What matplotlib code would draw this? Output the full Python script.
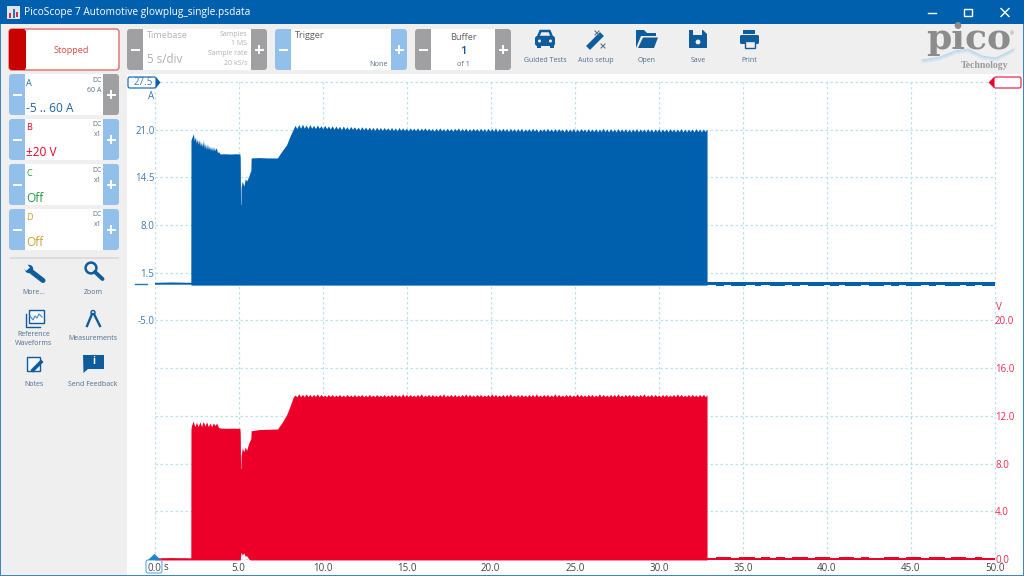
import numpy as np
import matplotlib
matplotlib.use("Agg")
import matplotlib.pyplot as plt
from matplotlib.patches import Rectangle, FancyBboxPatch, Polygon, Circle
from matplotlib.lines import Line2D

plt.rcParams['font.family'] = ['Open Sans', 'DejaVu Sans']

# ---------- data: current (A) envelope, channel A ----------
t_start = [0.0, 1.0, 2.16]
a_pre_up = [0.2, 0.25, 0.2]
a_pre_lo = [-0.05, -0.05, -0.05]

t_rise = [2.17, 2.22, 2.31, 2.37, 2.43, 2.49, 2.55, 2.61, 2.67, 2.73, 2.79, 2.85, 2.91, 2.97, 3.03, 3.09, 3.15, 3.21, 3.27,
          3.33, 3.39, 3.45, 3.51, 3.57, 3.63, 3.69, 3.75, 3.82, 3.90, 4.2, 4.5, 4.8,
          5.08, 5.10, 5.12, 5.14, 5.15, 5.22, 5.31, 5.40, 5.48, 5.60, 5.70, 5.73, 5.75, 6.2, 6.8, 7.31,
          7.57, 7.86, 8.06, 8.26, 8.36]
a_rise = [19.6, 19.9, 20.45, 19.5, 20.0, 19.2, 19.7, 19.0, 19.64, 18.8, 19.3, 18.7, 19.5, 18.5, 19.1, 18.3, 19.05, 18.3, 18.8,
          18.2, 18.7, 18.1, 18.7, 18.1, 18.5, 18.4, 17.9, 18.0, 17.7, 17.72, 17.68, 17.72,
          17.7, 17.2, 10.8, 10.8, 13.1, 14.0, 13.3, 14.3, 14.0, 14.6, 15.3, 15.4, 17.15, 17.2, 17.15, 17.15,
          18.05, 18.95, 20.1, 21.1, 21.6]

a_cruise = [
    21.15, 21.7, 21.2, 21.75, 21.2, 21.65, 21.15, 21.7, 21.2, 21.6, 21.15, 21.65, 21.2, 21.55, 21.1, 21.6, 21.15, 21.5, 21.1, 21.55,
    21.05, 21.5, 21.1, 21.45, 21.0, 21.5, 21.05, 21.4, 21.0, 21.45, 21.05, 21.4, 21.0, 21.35, 20.95, 21.4, 21.0, 21.35, 20.95, 21.35,
    20.95, 21.3, 20.9, 21.35, 20.95, 21.3, 20.9, 21.3, 20.95, 21.25, 20.9, 21.3, 20.9, 21.25, 20.85, 21.3, 20.9, 21.25, 20.9, 21.2,
    20.85, 21.25, 20.9, 21.2, 20.85, 21.25, 20.85, 21.2, 20.9, 21.25, 20.85, 21.2, 20.85, 21.15, 20.8, 21.2, 20.85, 21.25, 20.85, 21.15,
    20.8, 21.2, 20.85, 21.15, 20.8, 21.2, 20.85, 21.25, 20.8, 21.15, 20.85, 21.2, 20.8, 21.15, 20.8, 21.2, 20.85, 21.15, 20.8, 21.2,
    20.8, 21.15, 20.75, 21.2, 20.8, 21.15, 20.8, 21.25, 20.75, 21.15, 20.8, 21.2, 20.8, 21.15, 20.75, 21.2, 20.8, 21.15, 20.75, 21.15,
    20.8, 21.2, 20.75, 21.1, 20.8, 21.15, 20.75, 21.2, 20.8, 21.15, 20.7, 21.1, 20.8, 21.15, 20.75, 21.2, 20.8, 21.1, 20.75, 21.15,
    20.75, 21.15, 20.8, 21.1, 20.7, 21.15, 20.75, 21.1, 20.75, 21.2, 20.7, 21.1, 20.75, 21.15, 20.8, 21.1, 20.7, 21.15, 20.75, 21.1,
    20.75, 21.15, 20.7, 21.1, 20.75, 21.2, 20.75, 21.1, 20.7, 21.15, 20.75, 21.1, 20.7, 21.15, 20.75, 21.1, 20.75, 21.15, 20.7, 21.1,
    20.7, 21.1, 20.75, 21.15, 20.7, 21.1, 20.75, 21.1, 20.7, 21.15, 20.75, 21.1, 20.7, 21.1, 20.75, 21.15, 20.7, 21.1, 20.75, 21.1,
    20.7, 21.15, 20.75, 21.1, 20.7, 21.1, 20.75, 21.15, 20.7, 21.1, 20.7, 21.1, 20.75, 21.1, 20.7, 21.15, 20.75, 21.1, 20.7, 21.1,
    20.75, 21.1,
]
a_active_lo = -0.18

t_after = [32.88, 33.4, 33.9, 34.3, 34.8, 35.2, 35.7, 36.1, 36.6, 37.0, 37.5, 37.9, 38.4, 38.9, 39.3, 39.8, 40.2, 40.7, 41.1, 41.6,
           42.0, 42.5, 42.9, 43.4, 43.8, 44.3, 44.7, 45.2, 45.6, 46.1, 46.5, 47.0, 47.4, 47.9, 48.3, 48.8, 49.2, 50.0]
a_after_up = [0.2, 0.3, 0.22, 0.3, 0.3, 0.22, 0.3, 0.25, 0.3, 0.22, 0.3, 0.3, 0.25, 0.3, 0.2, 0.3, 0.3, 0.25, 0.3, 0.22,
              0.3, 0.3, 0.25, 0.3, 0.3, 0.22, 0.3, 0.25, 0.3, 0.3, 0.22, 0.3, 0.3, 0.25, 0.3, 0.22, 0.3, 0.3]
a_after_lo = [-0.22, -0.24, -0.22, -0.26, -0.24, -0.22, -0.25, -0.22, -0.24, -0.26, -0.22, -0.24, -0.22, -0.25, -0.24, -0.22, -0.26, -0.22, -0.24, -0.25,
              -0.22, -0.24, -0.26, -0.22, -0.24, -0.22, -0.25, -0.24, -0.22, -0.26, -0.22, -0.24, -0.25, -0.22, -0.24, -0.22, -0.26, -0.24]

# ---------- data: voltage (V) envelope, channel B ----------
t_v_rise = [2.17, 2.2, 2.3, 2.4, 2.5, 2.6, 2.7, 2.8, 2.9, 3.0, 3.1, 3.2, 3.3, 3.4, 3.5, 3.6, 3.7, 3.8, 3.9, 4.3, 4.7,
            5.08, 5.10, 5.12, 5.14, 5.15, 5.22, 5.31, 5.40, 5.48, 5.60, 5.70, 5.73, 5.75, 6.2, 6.8, 7.31,
            7.57, 7.86, 8.06, 8.26, 8.36]
v_rise = [10.9, 11.2, 11.55, 11.1, 11.45, 11.1, 11.5, 11.1, 11.55, 11.15, 11.5, 11.1, 11.4, 11.1, 11.4, 11.2, 11.4, 11.05, 10.98, 10.96, 10.97,
          10.96, 10.55, 7.6, 7.6, 8.6, 9.3, 9.0, 9.4, 9.1, 9.7, 10.0, 10.1, 10.75, 10.85, 10.88, 10.9,
          11.4, 12.1, 12.8, 13.6, 13.75]
v_cruise = [
    13.6, 13.85, 13.62, 13.8, 13.6, 13.85, 13.62, 13.8, 13.6, 13.8, 13.62, 13.85, 13.6, 13.8, 13.62, 13.75, 13.6, 13.8, 13.62, 13.8,
    13.6, 13.75, 13.62, 13.8, 13.6, 13.75, 13.6, 13.8, 13.62, 13.75, 13.6, 13.8, 13.6, 13.75, 13.62, 13.8, 13.6, 13.75, 13.6, 13.8,
    13.62, 13.75, 13.6, 13.8, 13.62, 13.75, 13.6, 13.8, 13.6, 13.75, 13.62, 13.8, 13.6, 13.8, 13.62, 13.75, 13.6, 13.85, 13.62, 13.8,
    13.6, 13.8, 13.62, 13.75, 13.6, 13.8, 13.62, 13.85, 13.6, 13.75, 13.62, 13.8, 13.6, 13.8, 13.62, 13.75, 13.6, 13.8, 13.62, 13.85,
    13.6, 13.75, 13.62, 13.8, 13.6, 13.8, 13.62, 13.75, 13.6, 13.8, 13.62, 13.85, 13.6, 13.8, 13.62, 13.75, 13.6, 13.8, 13.62, 13.8,
    13.6, 13.75, 13.62, 13.8, 13.6, 13.85, 13.62, 13.8, 13.6, 13.75, 13.62, 13.8, 13.6, 13.8, 13.62, 13.85, 13.6, 13.75, 13.62, 13.8,
    13.6, 13.8, 13.62, 13.75, 13.6, 13.8, 13.62, 13.8, 13.6, 13.85, 13.62, 13.75, 13.6, 13.8, 13.62, 13.8, 13.6, 13.75, 13.62, 13.85,
    13.6, 13.8, 13.62, 13.75, 13.6, 13.8, 13.62, 13.8, 13.6, 13.75, 13.62, 13.85, 13.6, 13.8, 13.62, 13.75, 13.6, 13.8, 13.62, 13.8,
    13.6, 13.75, 13.62, 13.85, 13.6, 13.8, 13.62, 13.75, 13.6, 13.8, 13.62, 13.8, 13.6, 13.85, 13.62, 13.75, 13.6, 13.8, 13.62, 13.8,
    13.6, 13.8, 13.62, 13.75, 13.6, 13.8, 13.62, 13.85, 13.6, 13.75, 13.62, 13.8, 13.6, 13.8, 13.62, 13.75, 13.6, 13.8, 13.62, 13.8,
    13.6, 13.75, 13.62, 13.8, 13.6, 13.85, 13.62, 13.8, 13.6, 13.75, 13.62, 13.8, 13.6, 13.8, 13.62, 13.75, 13.6, 13.8, 13.62, 13.8,
    13.62, 13.75,
]
t_v_lo = [2.17, 5.08, 5.10, 5.16, 5.22, 5.30, 5.38, 5.46, 5.55, 5.7, 32.87]
v_lo = [-0.08, -0.08, -0.08, 0.7, 0.35, 0.55, 0.2, 0.35, 0.05, -0.08, -0.08]
v_pre_up = [0.1, 0.12, 0.1]
v_pre_lo = [-0.08, -0.08, -0.08]
v_after_up = [0.06, 0.13, 0.15, 0.1, 0.14, 0.15, 0.09, 0.14, 0.12, 0.15, 0.1, 0.14, 0.15, 0.1, 0.13, 0.15, 0.09, 0.14, 0.15, 0.11,
              0.15, 0.12, 0.1, 0.14, 0.15, 0.1, 0.14, 0.15, 0.09, 0.13, 0.15, 0.11, 0.14, 0.15, 0.1, 0.14, 0.12, 0.12]

# ---------- axis labels ----------
time_ticks = [0, 5, 10, 15, 20, 25, 30, 35, 40, 45, 50]
time_labels = ['0.0', '5.0', '10.0', '15.0', '20.0', '25.0', '30.0', '35.0', '40.0', '45.0', '50.0']
amp_ticks = [27.5, 21.0, 14.5, 8.0, 1.5, -5.0, -11.5, -18.0, -24.5, -31.0, -37.5]
amp_labels = ['', '21.0', '14.5', '8.0', '1.5', '-5.0', '', '', '', '', '']
volt_ticks = [0, 4, 8, 12, 16, 20]
volt_labels = ['0.0', '4.0', '8.0', '12.0', '16.0', '20.0']

BLUE = '#0060AD'
RED = '#EC0029'
GRID = '#BCE2F0'
PANEL = '#EFEFEF'
ICON = '#0F5C9C'
LBL = '#4F6F8F'
BTN_BLUE = '#93C0EA'
BTN_GREY = '#A0A0A3'
FAINT = '#B2B2B2'

W, H = 1024, 576
fig = plt.figure(figsize=(W / 100, H / 100), dpi=100, facecolor='white')

def px_axes(z):
    a = fig.add_axes([0, 0, 1, 1], zorder=z)
    a.set_xlim(0, W)
    a.set_ylim(H, 0)
    a.axis('off')
    a.patch.set_alpha(0)
    return a

bg = px_axes(0)
fg = px_axes(3)

def rect(a, x0, y0, x1, y1, c, **k):
    a.add_patch(Rectangle((x0, y0), x1 - x0, y1 - y0, fc=c, ec='none', **k))

def rrect(a, x0, y0, x1, y1, fc, ec='none', lw=0, r=3):
    a.add_patch(FancyBboxPatch((x0 + r, y0 + r), x1 - x0 - 2 * r, y1 - y0 - 2 * r,
                               boxstyle=f'round,pad={r},rounding_size={r}', fc=fc, ec=ec, lw=lw))

def txt(x, y, s, c=LBL, size=5.0, ha='left', va='center', **k):
    fg.text(x, y + 1, s, color=c, fontsize=size, ha=ha, va=va, **k)

def line(xs, ys, c=ICON, lw=1.5, a=fg, **k):
    a.add_line(Line2D(xs, ys, color=c, lw=lw, **k))

# window chrome
rect(bg, 0, 0, W, H, PANEL)
rect(bg, 127, 74, 1023, 575, 'white')
rect(bg, 0, 0, W, 24, BLUE)
rect(bg, 0, 24, 1, H, '#3C86C4')
rect(bg, 1023, 24, W, H, '#3C86C4')
rect(bg, 0, 575, W, H, '#3C86C4')

# title bar
rect(fg, 7, 6, 20, 19, '#DDE6EE')
rect(fg, 9, 13, 11, 18, '#D0303A')
rect(fg, 13, 9, 15, 18, '#3A6FB0')
rect(fg, 16, 12, 18, 17, '#D0303A')
txt(24, 12, 'PicoScope 7 Automotive glowplug_single.psdata', 'white', 7.3)
line([928, 936], [12.5, 12.5], 'white', 1)
fg.add_patch(Rectangle((964, 8.5), 7.5, 7.5, fc='none', ec='white', lw=1))
line([1001, 1009], [8.5, 16.5], 'white', 1)
line([1001, 1009], [16.5, 8.5], 'white', 1)

# run state
rrect(bg, 9, 29, 119, 70, 'white', '#E26A6A', 1)
rrect(bg, 9, 29, 26, 70, '#C80000')
rect(bg, 20, 29.5, 25, 69.5, '#C80000')
txt(71, 49.5, 'Stopped', '#DC4A4A', 6.6, ha='center')

def stepper(x0, y0, x1, y1, left, right, side=16):
    rrect(bg, x0, y0, x1, y1, 'white', r=3)
    rrect(bg, x0, y0, x0 + side, y1, left, r=3)
    rect(bg, x0 + side - 4, y0, x0 + side, y1, left)
    rrect(bg, x1 - side, y0, x1, y1, right, r=3)
    rect(bg, x1 - side, y0, x1 - side + 4, y1, right)
    ym = (y0 + y1) / 2
    xl, xr = x0 + side / 2, x1 - side / 2
    line([xl - 3.5, xl + 3.5], [ym, ym], 'white', 1.4)
    line([xr - 3.5, xr + 3.5], [ym, ym], 'white', 1.4)
    line([xr, xr], [ym - 3.5, ym + 3.5], 'white', 1.4)

# toolbar
stepper(127, 29, 267, 70, BTN_GREY, BTN_GREY)
txt(147, 35, 'Timebase', FAINT, 6.6)
txt(147, 58.5, '5 s/div', FAINT, 8.4, fontweight='medium')
for yy, s in zip([33.5, 42.5, 52.5, 62.5], ['Samples', '1 MS', 'Sample rate', '20 kS/s']):
    txt(247, yy, s, FAINT, 5, ha='right')
stepper(275, 29, 407, 70, BTN_BLUE, BTN_BLUE)
txt(295, 35, 'Trigger', '#606060', 6.6)
txt(388, 63.5, 'None', '#5A7088', 5.2, ha='right')
stepper(415, 29, 511, 70, BTN_GREY, BTN_GREY)
txt(463, 36.5, 'Buffer', '#606060', 6.6, ha='center')
txt(463, 51, '1', ICON, 8.2, ha='center', fontweight='semibold')
txt(463, 63.5, 'of 1', '#5A7088', 5.2, ha='center')

# channels
channels = [(74, 115, 'A', 'DC', '60 A', '-5 .. 60 A', '#1F66A8', BTN_GREY),
            (119, 160, 'B', 'DC', 'x1', '±20 V', '#E8002A', BTN_BLUE),
            (164, 205, 'C', 'DC', 'x1', 'Off', '#1FA046', BTN_BLUE),
            (209, 250, 'D', 'DC', 'x1', 'Off', '#CFA035', BTN_BLUE)]
for y0, y1, nm, cp, rg, val, col, rb in channels:
    stepper(9, y0, 119, y1, BTN_BLUE, rb)
    txt(26.5, y0 + 8, nm, col, 6.6)
    txt(101.5, y0 + 5, cp, '#5A7088', 5, ha='right')
    txt(101.5, y0 + 15, rg, '#5A7088', 5, ha='right')
    txt(26.5, y0 + 33, val, col, 8.6, fontweight='medium')
rect(bg, 10, 257, 119, 259, '#DCDCDC')

# side tools
for x, y, s in [(34, 292, 'More...'), (93, 292, 'Zoom'), (34, 333, 'Reference'), (34, 342.5, 'Waveforms'),
                (93, 338, 'Measurements'), (34, 383, 'Notes'), (93, 383, 'Send Feedback')]:
    txt(x, y, s, LBL, 5.0, ha='center')
# wrench
line([32, 43], [272, 280.5], ICON, 3.6, solid_capstyle='round')
fg.add_patch(Circle((29, 269), 4.2, fc=ICON, ec='none'))
fg.add_patch(Polygon([[25, 262], [30, 267.5], [26, 271], [22, 265]], fc=PANEL, ec='none'))
# magnifier
fg.add_patch(Circle((91, 268), 5.4, fc='none', ec=ICON, lw=1.8))
line([95, 102.5], [272, 279], ICON, 2.8, solid_capstyle='round')
# reference waveforms
fg.add_patch(Rectangle((28.5, 310), 15, 13, fc='#F5F8FB', ec=ICON, lw=1))
line([25.5, 25.5, 40], [314, 327, 327], ICON, 1)
line([30, 33, 35, 37, 39, 42], [316, 320, 316, 318, 314, 317], '#4B8BC0', 0.8)
# measurements
fg.add_patch(Circle((93, 312.5), 2, fc='none', ec=ICON, lw=1))
line([92, 87], [314, 326], ICON, 1.7)
line([94, 100], [314, 326], ICON, 1.7)
# notes
fg.add_patch(Rectangle((27, 357), 13, 14, fc='#F5F8FB', ec=ICON, lw=1))
line([33, 41], [370, 362], ICON, 2.6)
# feedback
fg.add_patch(Polygon([[83, 355], [104, 355], [104, 369], [88, 369], [83.5, 373]], fc=ICON, ec='none'))
txt(93.5, 361, 'i', 'white', 7, ha='center', fontweight='bold')

# top tools
for x, s in [(545, 'Guided Tests'), (596, 'Auto setup'), (647, 'Open'), (698, 'Save'), (749, 'Print')]:
    txt(x, 59, s, LBL, 5.0, ha='center')
# car
fg.add_patch(Polygon([[538, 37], [540.5, 31], [549.5, 31], [552, 37]], fc='none', ec=ICON, lw=1.8))
rrect(fg, 535, 36, 555, 46, ICON, r=2.5)
rect(fg, 536.5, 45, 540.5, 48, ICON)
rect(fg, 549.5, 45, 553.5, 48, ICON)
fg.add_patch(Circle((539.5, 41), 1.5, fc=PANEL, ec='none'))
fg.add_patch(Circle((550.5, 41), 1.5, fc=PANEL, ec='none'))
# auto setup
line([590, 600], [46, 36], ICON, 4)
line([595, 599], [31, 35], '#5A6F85', 0.8)
line([595, 599], [35, 31], '#5A6F85', 0.8)
line([601, 605], [44, 48], '#5A6F85', 0.8)
line([601, 605], [48, 44], '#5A6F85', 0.8)
# open
fg.add_patch(Polygon([[636, 48], [636, 30], [644, 30], [647, 33], [656, 33], [656, 36], [641, 36]], fc=ICON, ec='none'))
fg.add_patch(Polygon([[638, 48], [643, 37.5], [658, 37.5], [654, 48]], fc=ICON, ec='none'))
# save
fg.add_patch(Polygon([[689, 30], [703, 30], [707, 34], [707, 48], [689, 48]], fc=ICON, ec='none'))
rect(fg, 693, 30, 702, 35, PANEL)
fg.add_patch(Circle((698, 42), 2.4, fc=PANEL, ec='none'))
# print
rect(fg, 743, 30, 755, 34, ICON)
rrect(fg, 740, 35, 759, 44, ICON, r=1.5)
fg.add_patch(Rectangle((744.5, 41), 10, 7, fc=PANEL, ec=ICON, lw=1))

# logo
fg.text(969, 49, 'pico', color='#8C8C8C', fontsize=26, ha='center', va='baseline',
        family='DejaVu Serif', fontweight='bold')
txt(1012, 33, '®', '#8C8C8C', 3.5, ha='center')
txt(984.5, 65, 'Technology', '#9A9A9A', 7, ha='center', family='Liberation Serif', fontweight='bold')
for dx, dy, col in [(0, 0, '#B8D4EA'), (1.5, 1, '#C6DEF0'), (3, 2, '#D2E6F4'), (-1.5, -1, '#AECDE6')]:
    line([922, 940, 955, 968, 982, 996, 1014], [61 + dy, 58 + dy, 52 + dy, 50 + dy, 57 + dy, 59 + dy, 50 + dy],
         col, 0.5)

# ---------- plot ----------
PX0, PX1, PY0, PY1 = 154.5, 995.0, 82.0, 559.0
ax = fig.add_axes([PX0 / W, 1 - PY1 / H, (PX1 - PX0) / W, (PY1 - PY0) / H], zorder=1)
ax.patch.set_alpha(0)
ax.set_xlim(0, 50)
ax.set_ylim(-37.5, 27.5)
for s in ax.spines.values():
    s.set_visible(False)
ax.set_xticks(time_ticks)
ax.set_xticklabels(time_labels, color='#444444', fontsize=7)
ax.set_yticks(amp_ticks)
ax.set_yticklabels(amp_labels, color='#3D7BB5', fontsize=7)
ax.tick_params(axis='x', length=0, pad=3)
ax.tick_params(axis='y', length=0, pad=0)
ax.set_axisbelow(True)
ax.grid(True, color=GRID, lw=0.9, ls=(0, (2, 2)))
for g in ax.get_xgridlines() + ax.get_ygridlines():
    g.set_clip_on(False)

ax2 = ax.twinx()
ax2.patch.set_alpha(0)
ax2.set_ylim(0, 40)
for s in ax2.spines.values():
    s.set_visible(False)
ax2.set_yticks(volt_ticks)
ax2.set_yticklabels(volt_labels, color='#EC2A50', fontsize=7)
ax2.tick_params(axis='y', length=0, pad=0)

# channel A
t_cruise = np.linspace(8.47, 32.87, len(a_cruise))
t_a = np.concatenate([t_start, t_rise, t_cruise])
a_up = np.concatenate([a_pre_up, a_rise, a_cruise])
a_lo = np.concatenate([a_pre_lo, np.full(len(a_rise) + len(a_cruise), a_active_lo)])
ax.fill_between(t_a, a_lo, a_up, color=BLUE, lw=0, zorder=3)
ax.fill_between(t_after, a_after_lo, a_after_up, step='post', color=BLUE, lw=0, zorder=3)

# channel B
t_cruise_v = np.linspace(8.47, 32.87, len(v_cruise))
t_b = np.concatenate([t_start, t_v_rise, t_cruise_v])
v_up = np.concatenate([v_pre_up, v_rise, v_cruise])
lo_active = np.interp(np.concatenate([t_v_rise, t_cruise_v]), t_v_lo, v_lo)
v_low = np.concatenate([v_pre_lo, lo_active])
ax2.fill_between(t_b, v_low, v_up, color=RED, lw=0, zorder=3, clip_on=False)
ax2.fill_between(t_after, np.full(len(t_after), -0.08), v_after_up, step='post', color=RED, lw=0, zorder=3, clip_on=False)

# scale furniture
fg.add_patch(FancyBboxPatch((129, 78), 26, 9, boxstyle='round,pad=1,rounding_size=2', fc='white', ec='#1F6FB5', lw=0.9))
fg.add_patch(Polygon([[156, 77], [160.5, 82.5], [156, 88]], fc=BLUE, ec='none'))
txt(143, 81.5, '27.5', '#3D7BB5', 7, ha='center')
txt(151, 95.5, 'A', '#3D7BB5', 7, ha='center')
line([135, 147], [284, 284], '#1F78C0', 1)
fg.add_patch(FancyBboxPatch((995, 78), 25, 9, boxstyle='round,pad=1,rounding_size=2', fc='white', ec='#EC2A50', lw=0.9))
fg.add_patch(Polygon([[994, 77], [988.5, 82.5], [994, 88]], fc=RED, ec='none'))
txt(995.5, 306, 'V', '#EC2A50', 7)
fg.add_patch(FancyBboxPatch((147, 561), 14, 11, boxstyle='round,pad=1,rounding_size=2', fc='none', ec='#6FB2E4', lw=0.9))
fg.add_patch(Polygon([[148, 560], [154.5, 554], [161, 560]], fc='#1F84CC', ec='none'))
txt(163.5, 566.5, 's', '#444444', 7)

fig.savefig('out.png', dpi=100, facecolor='white')
